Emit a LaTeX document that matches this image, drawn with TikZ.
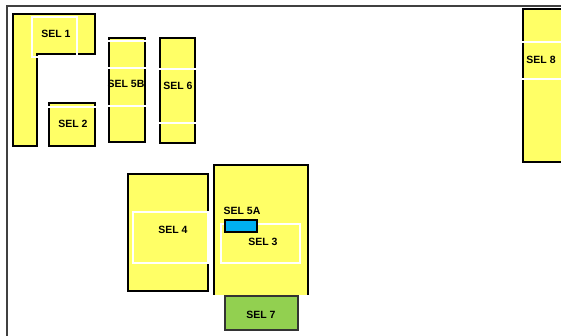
\documentclass[tikz,border=0pt]{standalone}
\usepackage{fontspec}
\setmainfont{Liberation Sans}
\usetikzlibrary{positioning}

\definecolor{selyellow}{HTML}{FFFF66}
\definecolor{selgreen}{HTML}{92D050}
\definecolor{selblue}{HTML}{00B0F0}

\begin{document}
\begin{tikzpicture}[x=1pt, y=-1pt]
        \tikzset{
            selbox/.style={draw=black, fill=selyellow, line width=1.3pt},
            greenbox/.style={draw=black!80, fill=selgreen, line width=1.3pt},
            bluebox/.style={draw=black, fill=selblue, line width=1.3pt},
            mark line/.style={draw=white, line width=1.1pt},
            frame/.style={draw=black!75, line width=1.5pt},
            sellabel/.style={font=\fontsize{10.5}{11}\selectfont\bfseries, text=black, inner sep=0pt}
        }
        \useasboundingbox (0,0) rectangle (561,335);
        \clip (0,0) rectangle (561,335);

        % Frame
        \draw[frame] (7,340) -- (7,6) -- (570,6);

        % Top row
        \draw[selbox] (13,14) -- (95,14) -- (95,54) -- (37,54) -- (37,146) -- (13,146) -- cycle;
        \draw[mark line] (32,17) rectangle (77,57);
        \draw[selbox] (49,103) rectangle (95,146);
        \draw[mark line] (48,107) -- (96,107);
        \draw[selbox] (109,38) rectangle (145,142);
        \foreach \y in {41,68,106}
            \draw[mark line] (108,\y) -- (146,\y);
        \draw[selbox] (160,38) rectangle (195,143);
        \foreach \y in {69,123}
            \draw[mark line] (159,\y) -- (196,\y);
        \draw[selbox] (523,9) rectangle (570,162);
        \foreach \y in {42,79}
            \draw[mark line] (522,\y) -- (570,\y);

        % Lower row
        \draw[selbox] (128,174) rectangle (208,291);
        \draw[mark line] (133,212) rectangle (208,263);
        \draw[selbox] (214,165) rectangle (308,296);
        \draw[mark line] (213,296) -- (309,296);
        \draw[mark line] (221,224) rectangle (300,263);
        \draw[bluebox] (225,220) rectangle (257,232);
        \draw[greenbox] (225,296) rectangle (298,330);

        % Labels
        \node[sellabel] (sel1) at (56,34) {SEL 1};
        \node[sellabel] (sel2) at (73,124) {SEL 2};
        \node[sellabel] (sel5b) at (126,84) {SEL 5B};
        \node[sellabel] (sel6) at (178,86) {SEL 6};
        \node[sellabel] (sel8) at (541,60) {SEL 8};
        \node[sellabel] (sel4) at (173,230) {SEL 4};
        \node[sellabel] (sel5a) at (242,211) {SEL 5A};
        \node[sellabel] (sel3) at (263,242) {SEL 3};
        \node[sellabel] (sel7) at (261,315) {SEL 7};
    \end{tikzpicture}
\end{document}
